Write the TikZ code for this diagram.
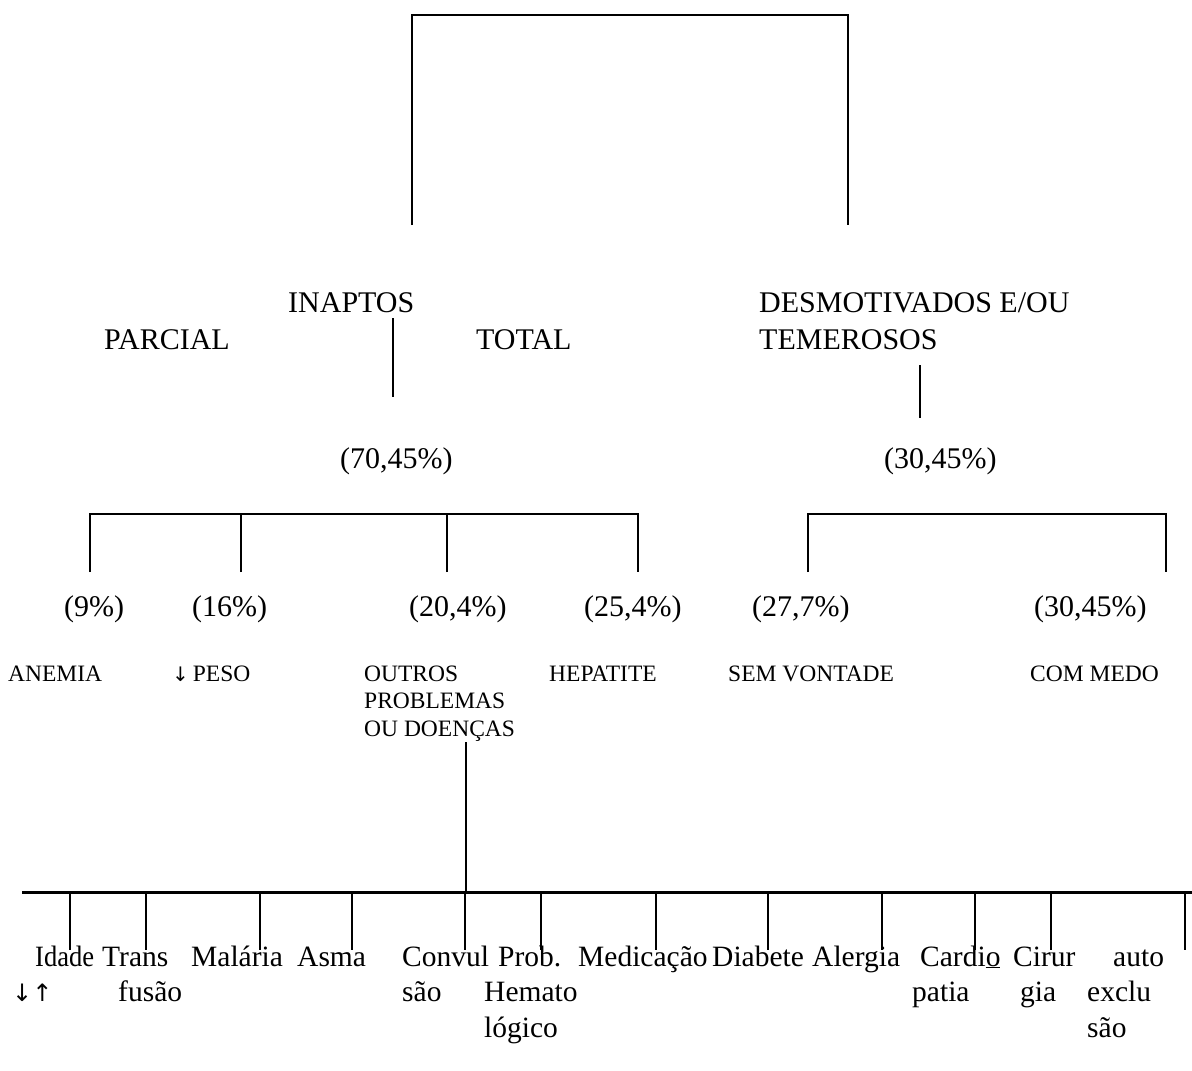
\documentclass[tikz,border=0pt]{standalone}
\usepackage{fontspec}
\setmainfont{Liberation Serif}
\newfontfamily\arrowfont{DejaVu Sans}
\begin{document}
\begin{tikzpicture}[x=1pt,y=-1pt,
  big/.style={inner sep=0pt,anchor=base west,font=\fontsize{30}{34}\selectfont},
  small/.style={inner sep=0pt,anchor=base west,font=\fontsize{23.5}{28}\selectfont},
  lbl/.style={inner sep=0pt,anchor=base west,font=\fontsize{29.5}{35}\selectfont},
  ln/.style={line width=2pt},
  bus/.style={line width=3pt}]
\useasboundingbox[fill=white] (0,0) rectangle (1192,1071);

% top bracket
\coordinate (tl) at (412,225);
\coordinate (tr) at (848,225);
\draw[ln] (tl) -- (412,15) -| (tr);

% level 1 texts
\node[big] (inaptos) at (288,312) {INAPTOS};
\node[big] (parcial) at (104,349) {PARCIAL};
\node[big] (total) at (476,349) {TOTAL};
\node[big] (desm) at (759,312) {DESMOTIVADOS E/OU};
\node[big] (temer) at (759,349) {TEMEROSOS};
\coordinate (ia) at (393,318);
\coordinate (ib) at (393,397);
\draw[ln] (ia) -- (ib);
\coordinate (da) at (920,365);
\coordinate (db) at (920,418);
\draw[ln] (da) -- (db);

\node[big] (p70) at (340,468) {(70,45\%)};
\node[big] (p30) at (884,468) {(30,45\%)};

% level 2 brackets
\coordinate (l1) at (90,572);
\coordinate (l2) at (241,572);
\coordinate (l3) at (447,572);
\coordinate (l4) at (638,572);
\draw[ln] (l1) -- (90,514) -| (l4);
\draw[ln] (l2) -- (241,514);
\draw[ln] (l3) -- (447,514);
\coordinate (r1) at (808,572);
\coordinate (r2) at (1166,572);
\draw[ln] (r1) -- (808,514) -| (r2);

% percentages
\node[big] (p9) at (64,616) {(9\%)};
\node[big] (p16) at (192,616) {(16\%)};
\node[big] (p20) at (409,616) {(20,4\%)};
\node[big] (p25) at (584,616) {(25,4\%)};
\node[big] (p27) at (752,616) {(27,7\%)};
\node[big] (p3045) at (1034,616) {(30,45\%)};

% categories
\node[small] (anemia) at (8,681) {ANEMIA};
\node[small] (peso) at (172,681) {{\arrowfont\fontsize{20}{24}\selectfont ↓}\,PESO};
\node[small] (outros1) at (364,681) {OUTROS};
\node[small] (outros2) at (364,708) {PROBLEMAS};
\node[small] (outros3) at (364,736) {OU DOENÇAS};
\node[small] (hep) at (549,681) {HEPATITE};
\node[small] (semv) at (728,681) {SEM VONTADE};
\node[small] (comm) at (1030,681) {COM MEDO};

% bottom bus
\coordinate (oa) at (466,742);
\coordinate (ob) at (466,892);
\draw[ln] (oa) -- (ob);
\coordinate (busl) at (22,892);
\coordinate (busr) at (1192,892);
\draw[bus] (busl) -- (busr);
\foreach \i/\x in {1/70,2/146,3/260,4/352,5/465,6/541,7/656,8/768,9/882,10/975,11/1051,12/1185}{
  \coordinate (k\i) at (\x,950);
  \draw[ln] (k\i |- busl) -- (k\i);
}

% bottom labels
\node[lbl] (idade) at (35,966) {\scalebox{0.9}[1]{Idade}};
\node[lbl] (idarr) at (12,1001) {{\arrowfont\fontsize{24}{28}\selectfont ↓↑}};
\node[lbl] (trans) at (102,966) {Trans};
\node[lbl] (fusao) at (118,1001) {fusão};
\node[lbl] (malaria) at (191,966) {Malária};
\node[lbl] (asma) at (297,966) {Asma};
\node[lbl] (convul) at (402,966) {Convul};
\node[lbl] (sao1) at (402,1001) {são};
\node[lbl] (prob) at (498,966) {Prob.};
\node[lbl] (hemato) at (484,1001) {Hemato};
\node[lbl] (logico) at (484,1037) {lógico};
\node[lbl] (medic) at (578,966) {Medicação};
\node[lbl] (diab) at (712,966) {Diabete};
\node[lbl] (alerg) at (812,966) {Alergia};
\node[lbl] (cardio) at (920,966) {Cardi\underline{o}};
\node[lbl] (patia) at (912,1001) {patia};
\node[lbl] (cirur) at (1013,966) {Cirur};
\node[lbl] (gia) at (1020,1001) {gia};
\node[lbl] (auto) at (1113,966) {auto};
\node[lbl] (exclu) at (1087,1001) {exclu};
\node[lbl] (sao2) at (1087,1037) {são};
\end{tikzpicture}
\end{document}
